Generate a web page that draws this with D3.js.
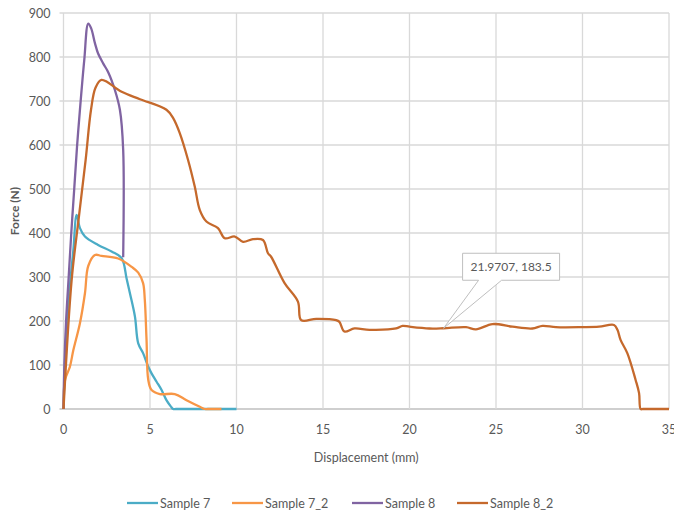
<!DOCTYPE html>
<html>
<head>
<meta charset="utf-8">
<script src="https://cdn.jsdelivr.net/npm/d3@7"></script>
<style>
  body { margin: 0; background: #fff; }
  text { font-family: Lato, "Open Sans", sans-serif; fill: #595959; }
</style>
</head>
<body>
<svg id="chart" width="674" height="515"></svg>
<script>
// series names and colours
const seriesNames = ['Sample 7', 'Sample 7_2', 'Sample 8', 'Sample 8_2'];
const seriesColors = ['#4bacc6', '#f79646', '#8064a2', '#c5692c'];

// displacement (mm) / force (N)
const s7x = [0, 0.1, 0.25, 0.4, 0.57, 0.76, 0.95, 1.24, 2.0, 2.78, 3.36, 3.65, 3.84, 4.13, 4.32, 4.6, 4.9, 5.09, 5.38, 5.67, 5.95, 6.2, 6.34, 6.5, 10.0];
const s7y = [0, 120, 220, 293, 361, 441, 411, 392, 373, 358, 343, 296, 263, 210, 149, 127, 96, 81, 62, 43, 20, 6, 0, 0, 0];

const s72x = [0, 0.09, 0.37, 0.57, 0.95, 1.24, 1.43, 1.82, 2.2, 3.16, 3.94, 4.32, 4.6, 4.7, 4.8, 4.9, 5.09, 5.57, 6.43, 7.11, 7.88, 8.16, 8.35, 9.13];
const s72y = [0, 66, 96, 134, 195, 263, 325, 350, 348, 342, 323, 310, 286, 248, 157, 66, 43, 34, 34, 20, 5, 0, 0, 0];

const s8x = [0, 0.05, 0.15, 0.3, 0.45, 0.62, 0.78, 0.95, 1.2, 1.43, 1.6, 1.82, 2.0, 2.3, 2.59, 2.97, 3.26, 3.45, 3.45];
const s8y = [0, 100, 200, 300, 400, 500, 595, 680, 793, 876, 865, 831, 808, 785, 765, 725, 680, 589, 345];

const s82x = [0, 0.47, 0.9, 1.28, 1.59, 1.85, 2.2, 3.36, 4.42, 5.95, 6.34, 6.72, 7.2, 7.59, 7.88, 8.26, 8.93, 9.32, 9.9, 10.38, 10.95, 11.53, 11.82, 12.0, 12.78, 13.55, 13.74, 14.61, 15.76, 15.95, 16.24, 16.82, 17.69, 19.23, 19.6, 20.0, 21.15, 21.97, 23.27, 23.84, 24.8, 25.95, 27.1, 27.69, 28.46, 30.0, 30.96, 31.82, 32.02, 32.2, 32.59, 33.07, 33.27, 33.36, 33.5, 35.0];
const s82y = [0, 293, 440, 566, 680, 730, 748, 721, 704, 680, 661, 627, 566, 505, 452, 426, 411, 388, 392, 380, 386, 384, 354, 346, 286, 244, 202, 205, 202, 198, 176, 183, 180, 183, 189, 187, 183, 183.5, 186, 181, 193, 187, 183, 189, 186, 186, 187, 191, 180, 157, 127, 66, 36, 0, 0, 0];

const xTicks = [0, 5, 10, 15, 20, 25, 30, 35];
const yTicks = [0, 100, 200, 300, 400, 500, 600, 700, 800, 900];

const callout = { x: 21.9707, y: 183.5, label: '21.9707, 183.5' };

const allX = [s7x, s72x, s8x, s82x];
const allY = [s7y, s72y, s8y, s82y];

const svg = d3.select('#chart');
const margin = { left: 63.5, top: 13, right: 5, bottom: 106 };
const width = 674 - margin.left - margin.right;
const height = 515 - margin.top - margin.bottom;

const x = d3.scaleLinear().domain([0, 35]).range([0, width]);
const y = d3.scaleLinear().domain([0, 900]).range([height, 0]);

const g = svg.append('g').attr('transform', `translate(${margin.left},${margin.top})`);

// gridlines
g.selectAll('.hgrid')
  .data(yTicks)
  .enter()
  .append('line')
  .attr('x1', -4)
  .attr('x2', width)
  .attr('y1', d => y(d))
  .attr('y2', d => y(d))
  .attr('stroke', d => d === 0 ? '#bfbfbf' : '#d9d9d9')
  .attr('stroke-width', 1.3);

g.selectAll('.vgrid')
  .data(xTicks)
  .enter()
  .append('line')
  .attr('x1', d => x(d))
  .attr('x2', d => x(d))
  .attr('y1', 0)
  .attr('y2', height)
  .attr('stroke', '#d9d9d9')
  .attr('stroke-width', 1.3);

// tick labels
g.selectAll('.ylab')
  .data(yTicks)
  .enter()
  .append('text')
  .attr('x', -13)
  .attr('y', d => y(d) + 4.5)
  .attr('text-anchor', 'end')
  .attr('font-size', '12.5px')
  .text(d => d);

g.selectAll('.xlab')
  .data(xTicks)
  .enter()
  .append('text')
  .attr('x', d => x(d))
  .attr('y', height + 25)
  .attr('text-anchor', 'middle')
  .attr('font-size', '12.5px')
  .text(d => d);

// axis titles
g.append('text')
  .attr('transform', `translate(-45,${height / 2}) rotate(-90)`)
  .attr('text-anchor', 'middle')
  .attr('font-size', '12px')
  .attr('font-weight', 'bold')
  .text('Force (N)');

g.append('text')
  .attr('x', width / 2)
  .attr('y', height + 53)
  .attr('text-anchor', 'middle')
  .attr('font-size', '12.5px')
  .text('Displacement (mm)');

// lines
const line = d3.line()
  .x(d => x(d[0]))
  .y(d => y(d[1]))
  .curve(d3.curveCatmullRom.alpha(0.5));

seriesNames.forEach((name, i) => {
  const pts = allX[i].map((v, j) => [v, allY[i][j]]);
  g.append('path')
    .datum(pts)
    .attr('d', line)
    .attr('fill', 'none')
    .attr('stroke', seriesColors[i])
    .attr('stroke-width', 2.3)
    .attr('stroke-linejoin', 'round');
});

// data callout
const px = x(callout.x), py = y(callout.y);
const bx = px + 19, by = py - 75, bw = 97, bh = 27;
g.append('path')
  .attr('d', `M${bx},${by} H${bx + bw} V${by + bh} H${bx + 39} L${px},${py} L${bx + 16},${by + bh} H${bx} Z`)
  .attr('fill', '#fff')
  .attr('stroke', '#bfbfbf')
  .attr('stroke-width', 1);
g.append('text')
  .attr('x', bx + bw / 2)
  .attr('y', by + 18)
  .attr('text-anchor', 'middle')
  .attr('font-size', '12px')
  .text(callout.label);

// legend
const legendX = [127, 232, 352, 457];
const legend = svg.append('g').attr('transform', 'translate(0,503)');
seriesNames.forEach((name, i) => {
  legend.append('line')
    .attr('x1', legendX[i])
    .attr('x2', legendX[i] + 31)
    .attr('y1', 0)
    .attr('y2', 0)
    .attr('stroke', seriesColors[i])
    .attr('stroke-width', 2.3);
  legend.append('text')
    .attr('x', legendX[i] + 33)
    .attr('y', 4.5)
    .attr('font-size', '12.5px')
    .text(name);
});
</script>
</body>
</html>
